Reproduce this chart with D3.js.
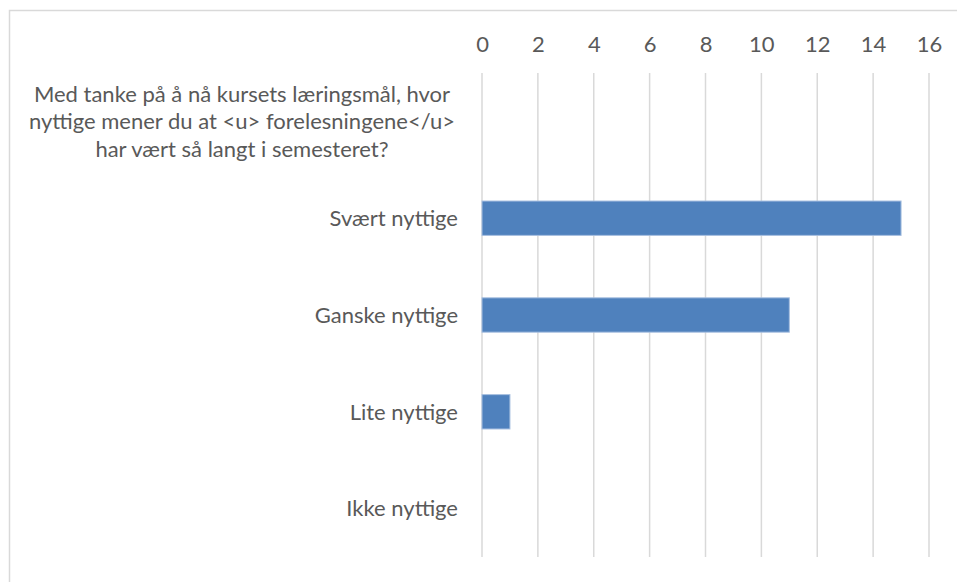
<!DOCTYPE html>
<html>
<head>
<meta charset="utf-8">
<script src="https://cdn.jsdelivr.net/npm/d3@7"></script>
<style>
  html, body { margin: 0; padding: 0; background: #fff; }
  text { font-family: Lato, "Open Sans", sans-serif; fill: #595959; }
</style>
</head>
<body>
<svg id="chart" width="957" height="582"></svg>
<script>
const categories = [
  'Med tanke på å nå kursets læringsmål, hvor nyttige mener du at <u> forelesningene</u> har vært så langt i semesteret?',
  'Svært nyttige',
  'Ganske nyttige',
  'Lite nyttige',
  'Ikke nyttige'
];
const values = [null, 15, 11, 1, 0];
const xTicks = [0, 2, 4, 6, 8, 10, 12, 14, 16];

const svg = d3.select('#chart');
const margin = { top: 73, left: 482, right: 28, bottom: 25 };
const width = 957;
const height = 582;
const fontSize = 22;

// Chart frame
svg
  .append('rect')
  .attr('x', 9.5)
  .attr('y', 10.5)
  .attr('width', 1000)
  .attr('height', 700)
  .attr('fill', 'none')
  .attr('stroke', '#d9d9d9')
  .attr('stroke-width', 1.5);

const x = d3.scaleLinear().domain([0, 16]).range([margin.left, width - margin.right]);
const y = d3
  .scaleBand()
  .domain(categories)
  .range([margin.top, height - margin.bottom])
  .paddingInner(0.645)
  .paddingOuter(0.3225);

// Gridlines
svg
  .append('g')
  .selectAll('line')
  .data(xTicks)
  .enter()
  .append('line')
  .attr('x1', (d) => x(d))
  .attr('x2', (d) => x(d))
  .attr('y1', margin.top)
  .attr('y2', height - margin.bottom)
  .attr('stroke', '#d9d9d9')
  .attr('stroke-width', 1.5);

// Top axis labels
const xAxis = svg
  .append('g')
  .attr('transform', `translate(0,${margin.top - 29})`)
  .call(d3.axisTop(x).tickValues(xTicks).tickSize(0).tickPadding(0));
xAxis.select('.domain').remove();
xAxis
  .selectAll('text')
  .attr('font-size', fontSize)
  .attr('font-family', 'Lato, sans-serif')
  .attr('fill', '#595959')
  .attr('dy', '0.35em');

// Bars
const rows = categories.map((c, i) => ({ cat: c, value: values[i] }));
svg
  .append('g')
  .selectAll('rect')
  .data(rows.filter((d) => d.value > 0))
  .enter()
  .append('rect')
  .attr('x', x(0))
  .attr('y', (d) => y(d.cat))
  .attr('width', (d) => x(d.value) - x(0))
  .attr('height', y.bandwidth())
  .attr('fill', '#4f81bd')
  .attr('stroke', '#a7bfe0')
  .attr('stroke-width', 1);

// Category labels
const labelX = margin.left - 24;
const maxWidth = 440;
const labels = svg
  .append('g')
  .selectAll('text')
  .data(categories)
  .enter()
  .append('text')
  .attr('font-size', fontSize)
  .attr('fill', '#595959');

labels.each(function (d) {
  const t = d3.select(this);
  const cy = y(d) + y.bandwidth() / 2;
  const words = d.split(' ');
  const lines = [];
  let line = [];
  const probe = t.append('tspan');
  words.forEach((w) => {
    line.push(w);
    probe.text(line.join(' '));
    if (probe.node().getComputedTextLength() > maxWidth && line.length > 1) {
      line.pop();
      lines.push(line.join(' '));
      line = [w];
    }
  });
  lines.push(line.join(' '));
  probe.remove();

  const lh = 27.5;
  const multi = lines.length > 1;
  const ax = multi ? 242 : labelX;
  t.attr('text-anchor', multi ? 'middle' : 'end');
  lines.forEach((l, i) => {
    t.append('tspan')
      .attr('x', ax)
      .attr('y', cy + (i - (lines.length - 1) / 2) * lh)
      .attr('dy', '0.35em')
      .text(l);
  });
});
</script>
</body>
</html>
